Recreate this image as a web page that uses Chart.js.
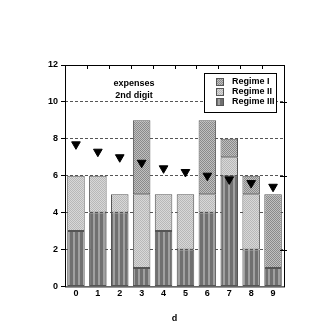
<!DOCTYPE html>
<html>
<head>
<meta charset="utf-8">
<script src="https://cdn.jsdelivr.net/npm/chart.js@4/dist/chart.umd.min.js"></script>
<style>
  html, body { margin: 0; padding: 0; background: #fff; }
  #chart { display: block; }
</style>
</head>
<body>
<canvas id="chart" width="327" height="327"></canvas>
<script>
const digits = ["0", "1", "2", "3", "4", "5", "6", "7", "8", "9"];
const regime3 = [3, 4, 4, 1, 3, 2, 4, 6, 2, 1];
const regime2 = [3, 2, 1, 4, 2, 3, 1, 1, 3, 0];
const regime1 = [0, 0, 0, 4, 0, 0, 4, 1, 1, 4];
const expected = [7.7, 7.3, 7.0, 6.7, 6.4, 6.2, 6.0, 5.8, 5.6, 5.4];
const yTicks = [0, 2, 4, 6, 8, 10, 12];

const FONT = "'Liberation Sans', Arial, sans-serif";

function makePattern(w, h, draw) {
  const c = document.createElement("canvas");
  c.width = w;
  c.height = h;
  draw(c.getContext("2d"));
  return c.getContext("2d").createPattern(c, "repeat");
}

const ctxMain = document.getElementById("chart").getContext("2d");

// vertical stripes, dark
const pat3 = makePattern(5, 1, (g) => {
  g.fillStyle = "#a0a0a0"; g.fillRect(0, 0, 5, 1);
  g.fillStyle = "#707070"; g.fillRect(0, 0, 3, 1);
});
// light fine dots
const pat2 = makePattern(2, 2, (g) => {
  g.fillStyle = "#d8d8d8"; g.fillRect(0, 0, 2, 2);
  g.fillStyle = "#b8b8b8"; g.fillRect(0, 0, 1, 1); g.fillRect(1, 1, 1, 1);
});
// darker checker
const pat1 = makePattern(2, 2, (g) => {
  g.fillStyle = "#c0c0c0"; g.fillRect(0, 0, 2, 2);
  g.fillStyle = "#8a8a8a"; g.fillRect(0, 0, 1, 1); g.fillRect(1, 1, 1, 1);
});

const legendItems = [
  ["Regime I", pat1],
  ["Regime II", pat2],
  ["Regime III", pat3],
];

const overlay = {
  id: "overlay",
  afterDraw(chart) {
    const { ctx, chartArea: a } = chart;
    ctx.save();
    // frame
    ctx.strokeStyle = "#000";
    ctx.lineWidth = 1;
    ctx.strokeRect(a.left + 0.5, a.top + 0.5, a.right - a.left, a.bottom - a.top);

    // top inner ticks
    const xs = chart.scales.x;
    ctx.beginPath();
    for (let i = 0; i < digits.length - 1; i++) {
      const x = Math.round((xs.getPixelForValue(i) + xs.getPixelForValue(i + 1)) / 2) + 0.5;
      ctx.moveTo(x, a.top); ctx.lineTo(x, a.top + 4);
    }
    ctx.stroke();

    // right ticks
    const ys = chart.scales.y;
    ctx.beginPath();
    [2, 6, 10].forEach((v) => {
      const y = Math.round(ys.getPixelForValue(v)) + 0.5;
      ctx.moveTo(a.right - 4, y); ctx.lineTo(a.right + 3, y);
    });
    ctx.stroke();

    // annotation
    ctx.fillStyle = "#000";
    ctx.font = "bold 9px " + FONT;
    ctx.textAlign = "center";
    ctx.textBaseline = "middle";
    ctx.fillText("expenses", 134, 84);
    ctx.fillText("2nd digit", 134, 96);

    // legend box
    ctx.fillStyle = "#fff";
    ctx.fillRect(204, 73, 73, 40);
    ctx.strokeRect(204.5, 73.5, 72, 39);
    ctx.textAlign = "left";
    legendItems.forEach(([label, pat], i) => {
      const y = 82 + i * 10;
      ctx.fillStyle = pat;
      ctx.fillRect(216, y - 4, 8, 8);
      ctx.strokeStyle = "#555";
      ctx.strokeRect(216.5, y - 3.5, 7, 7);
      ctx.fillStyle = "#000";
      ctx.fillText(label, 232, y);
    });
    ctx.restore();
  },
};

const barStyle = {
  borderColor: "#555",
  borderWidth: 1,
  borderSkipped: false,
  barPercentage: 0.8,
  categoryPercentage: 1.0,
  order: 1,
};

new Chart(ctxMain, {
  data: {
    labels: digits,
    datasets: [
      {
        type: "line",
        label: "expected",
        data: expected,
        showLine: false,
        pointStyle: "triangle",
        rotation: 180,
        pointRadius: 5,
        backgroundColor: "#000",
        borderColor: "#000",
        order: 0,
      },
      { type: "bar", label: "Regime III", data: regime3, backgroundColor: pat3, ...barStyle },
      { type: "bar", label: "Regime II", data: regime2, backgroundColor: pat2, ...barStyle },
      { type: "bar", label: "Regime I", data: regime1, backgroundColor: pat1, ...barStyle },
    ],
  },
  options: {
    responsive: false,
    animation: false,
    layout: { padding: { left: 45, right: 43, top: 65, bottom: 0 } },
    plugins: {
      legend: { display: false },
      tooltip: { enabled: false },
    },
    scales: {
      x: {
        stacked: true,
        grid: { display: false, drawTicks: false },
        border: { display: false },
        ticks: { color: "#000", font: { family: FONT, size: 9, weight: "bold" }, padding: 2 },
        title: {
          display: true,
          text: "d",
          color: "#000",
          font: { family: FONT, size: 9, weight: "bold" },
          padding: { top: 12, bottom: 3 },
        },
      },
      y: {
        stacked: true,
        min: 0,
        max: 12,
        afterBuildTicks: (s) => { s.ticks = yTicks.map((v) => ({ value: v })); },
        grid: {
          color: (c) => (c.tick.value === 0 || c.tick.value === 12 ? "rgba(0,0,0,0)" : "#555"),
          lineWidth: 1,
          drawTicks: true,
          tickLength: 4,
          tickColor: "#000",
        },
        border: { display: false, dash: [3, 2] },
        ticks: {
          color: "#000",
          font: { family: FONT, size: 9, weight: "bold" },
          padding: 3,
        },
      },
    },
  },
  plugins: [overlay],
});
</script>
</body>
</html>
